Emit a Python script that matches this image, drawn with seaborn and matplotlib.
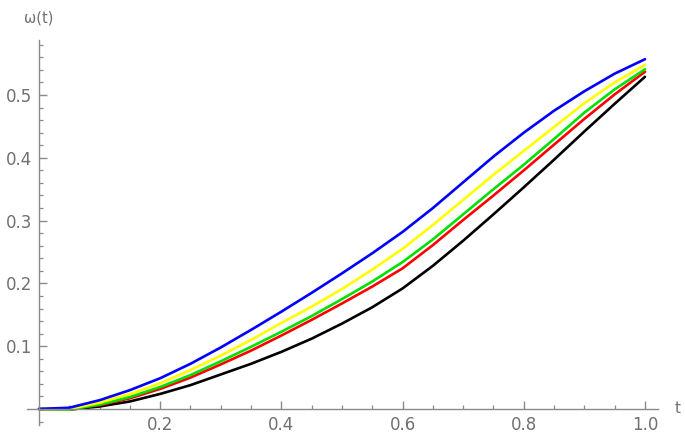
import numpy as np
import pandas as pd
import matplotlib
matplotlib.use("Agg")
import matplotlib.pyplot as plt
import seaborn as sns
from matplotlib.ticker import FixedLocator, MultipleLocator

t = [0.0, 0.05, 0.1, 0.15, 0.2, 0.25, 0.3, 0.35, 0.4, 0.45, 0.5,
     0.55, 0.6, 0.65, 0.7, 0.75, 0.8, 0.85, 0.9, 0.95, 1.0]

blue = [0.0, 0.002, 0.014, 0.03, 0.049, 0.072, 0.098, 0.126, 0.155, 0.185, 0.216,
        0.248, 0.282, 0.32, 0.361, 0.402, 0.44, 0.475, 0.506, 0.534, 0.557]
yellow = [0.0, 0.0, 0.01, 0.024, 0.041, 0.062, 0.085, 0.11, 0.137, 0.163, 0.191,
          0.222, 0.255, 0.293, 0.333, 0.373, 0.411, 0.449, 0.487, 0.52, 0.548]
green = [0.0, -0.001, 0.007, 0.019, 0.035, 0.054, 0.076, 0.099, 0.123, 0.148, 0.175,
         0.203, 0.234, 0.27, 0.31, 0.35, 0.389, 0.43, 0.472, 0.509, 0.541]
red = [0.0, 0.001, 0.006, 0.017, 0.032, 0.05, 0.071, 0.093, 0.117, 0.142, 0.168,
       0.195, 0.224, 0.261, 0.301, 0.34, 0.38, 0.421, 0.462, 0.501, 0.537]
black = [0.0, -0.001, 0.004, 0.012, 0.024, 0.038, 0.055, 0.072, 0.091, 0.112, 0.136,
         0.162, 0.192, 0.228, 0.268, 0.31, 0.353, 0.397, 0.442, 0.486, 0.529]

series_names = ["black", "red", "green", "yellow", "blue"]
series_vals = [black, red, green, yellow, blue]
palette = {"black": "#000000", "red": "#ff0000", "green": "#00e000",
           "yellow": "#ffff00", "blue": "#0000ff"}

x_major = [0.2, 0.4, 0.6, 0.8, 1.0]
x_labels = ["0.2", "0.4", "0.6", "0.8", "1.0"]
y_major = [0.1, 0.2, 0.3, 0.4, 0.5]
y_labels = ["0.1", "0.2", "0.3", "0.4", "0.5"]

df = pd.concat([pd.DataFrame({"t": t, "w": v, "s": n})
                for n, v in zip(series_names, series_vals)], ignore_index=True)

sns.set_style("white")
plt.rcParams['font.family'] = ['DejaVu Sans']

fig = plt.figure(figsize=(6.85, 4.34), dpi=100)
ax = fig.add_axes([27/685, 1 - 425/434, (658 - 27)/685, (425 - 40)/434])

sns.lineplot(data=df, x="t", y="w", hue="s", palette=palette, ax=ax,
             linewidth=1.9, legend=False, sort=False, estimator=None)

ax.set_xlim(-0.0198, 1.0215)
ax.set_ylim(-0.0255, 0.5876)

for side in ["top", "right"]:
    ax.spines[side].set_visible(False)
ax.spines["left"].set_position(("data", 0))
ax.spines["bottom"].set_position(("data", 0))
for side in ["left", "bottom"]:
    ax.spines[side].set_color("#8a8a8a")
    ax.spines[side].set_linewidth(1.0)

ax.xaxis.set_major_locator(FixedLocator(x_major))
ax.set_xticklabels(x_labels)
ax.yaxis.set_major_locator(FixedLocator(y_major))
ax.set_yticklabels(y_labels)
ax.xaxis.set_minor_locator(MultipleLocator(0.05))
ax.yaxis.set_minor_locator(MultipleLocator(0.02))

ax.tick_params(which="major", direction="in", length=5.5, width=1.0,
               color="#8a8a8a", labelcolor="#707070", labelsize=12, pad=5)
ax.tick_params(which="minor", direction="in", length=3, width=0.9, color="#8a8a8a")
ax.tick_params(axis="both", which="both", bottom=True, left=True)

ax.set_xlabel("")
ax.set_ylabel("")
ax.text(0, 0.5876 + 0.035, "ω(t)", ha="center", va="center",
        fontsize=10.5, color="#707070", transform=ax.transData, clip_on=False)
ax.text(1.0215 + 0.032, 0.0, "t", ha="center", va="center",
        fontsize=11, color="#707070", transform=ax.transData, clip_on=False)

fig.savefig("out.png", dpi=100)
